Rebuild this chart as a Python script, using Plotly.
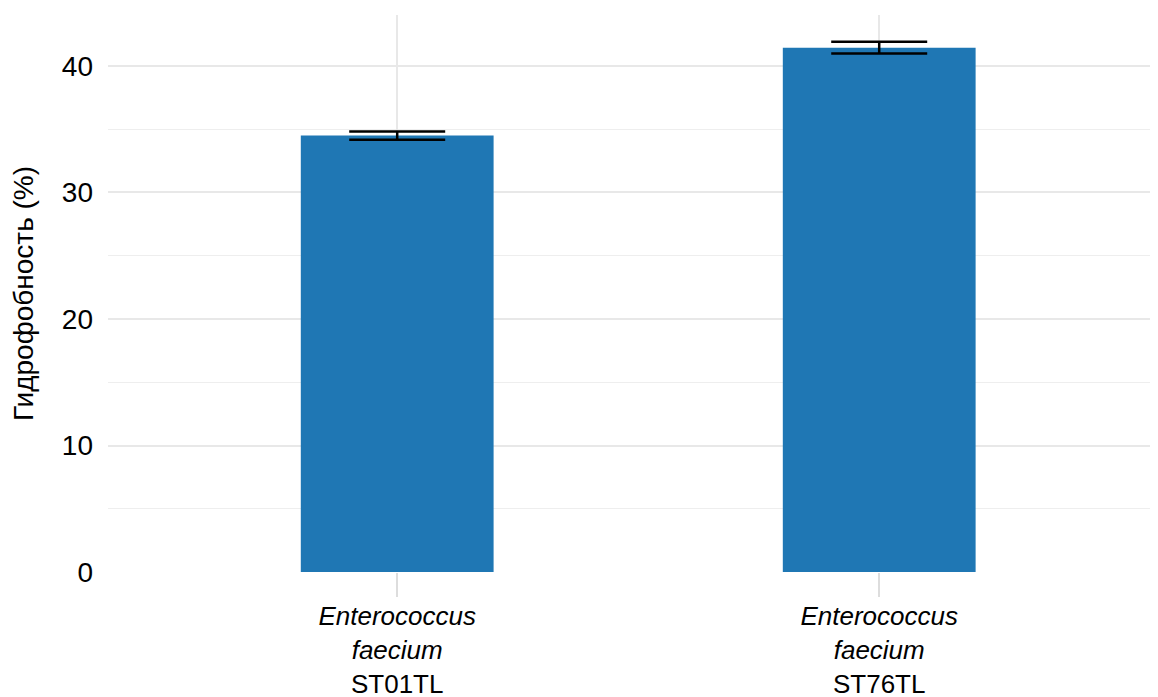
import plotly.graph_objects as go

categories = ["<i>Enterococcus<br>faecium</i><br>ST01TL", "<i>Enterococcus<br>faecium</i><br>ST76TL"]
values = [34.5, 41.45]
errors = [0.33, 0.46]
y_ticks = [0, 10, 20, 30, 40]

fig = go.Figure()
fig.add_trace(go.Bar(
    x=[0, 1], y=values,
    width=0.4,
    marker=dict(color="#1f77b4", line=dict(width=0)),
    error_y=dict(type="data", array=errors, visible=True, color="black", thickness=2.5, width=48),
))

font_family = "Liberation Sans, Arial, sans-serif"
fig.update_layout(
    width=1158, height=697,
    margin=dict(l=100, r=0, t=7, b=133),
    plot_bgcolor="white", paper_bgcolor="white",
    showlegend=False,
    font=dict(family=font_family, size=26, color="black"),
    xaxis=dict(
        range=[-0.6, 1.595],
        tickmode="array", tickvals=[0, 1], ticktext=categories,
        showgrid=True, gridcolor="#e8e8e8", gridwidth=1.5,
        ticks="outside", ticklen=24, tickcolor="#dddddd", tickwidth=1.5,
        tickfont=dict(size=26),
        ticklabelstandoff=-3,
        zeroline=False, showline=False, automargin=False,
    ),
    yaxis=dict(
        range=[0, 44.03],
        tickmode="array", tickvals=y_ticks,
        showgrid=True, gridcolor="#e8e8e8", gridwidth=1.5,
        minor=dict(dtick=5, showgrid=True, gridcolor="#eeeeee", gridwidth=1.2),
        tickfont=dict(size=28),
        ticklabelstandoff=14,
        zeroline=False, showline=False, automargin=False,
        title=dict(text="Гидрофобность (%)", font=dict(size=28), standoff=20),
    ),
)

fig.write_html("out.html")
